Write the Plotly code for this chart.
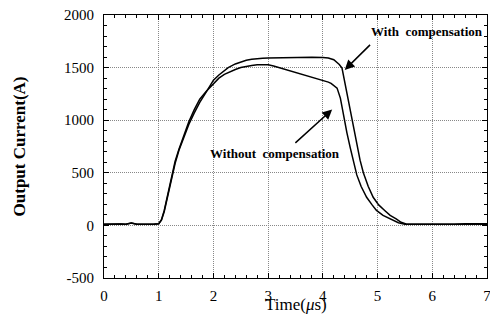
import plotly.graph_objects as go

# Time (us) and current (A)
t_with = [0.0, 0.1, 0.2, 0.3, 0.4, 0.5, 0.6, 0.7, 0.8, 0.9, 1.0, 1.05, 1.1, 1.15, 1.2, 1.25, 1.3, 1.37, 1.45, 1.55,
          1.65, 1.75, 1.87, 2.0, 2.1, 2.2, 2.27, 2.4, 2.5, 2.6, 2.7, 2.8, 2.9, 3.0, 3.2, 3.4, 3.6, 3.8, 4.0,
          4.1, 4.2, 4.25, 4.3, 4.35, 4.41, 4.47, 4.53, 4.58, 4.62, 4.68, 4.74, 4.83, 4.92, 5.02, 5.13, 5.23,
          5.34, 5.43, 5.52, 5.6, 5.8, 6.0, 6.2, 6.4, 6.6, 6.8, 7.0]
i_with = [10, 12, 8, 14, 10, 22, 12, 10, 14, 12, 15, 50, 130, 240, 370, 490, 590, 714, 830, 960,
          1070, 1170, 1270, 1380, 1430, 1470, 1500, 1535, 1555, 1570, 1580, 1587, 1590, 1592, 1595, 1597, 1598, 1598, 1596,
          1592, 1575, 1555, 1530, 1495, 1337, 1170, 1000, 870, 760, 620, 500, 370, 267, 195, 142, 95,
          63, 30, 14, 10, 12, 10, 14, 12, 15, 13, 15]

t_without = [0.0, 0.1, 0.2, 0.3, 0.4, 0.5, 0.6, 0.7, 0.8, 0.9, 1.0, 1.05, 1.1, 1.15, 1.2, 1.25, 1.3, 1.37, 1.45, 1.55,
             1.65, 1.75, 1.87, 2.0, 2.1, 2.2, 2.3, 2.4, 2.5, 2.6, 2.7, 2.8, 2.9, 3.0, 3.1, 3.2, 3.3, 3.4, 3.5,
             3.6, 3.7, 3.8, 3.9, 4.0, 4.1, 4.15, 4.2, 4.26, 4.32, 4.38, 4.44, 4.5, 4.56, 4.62, 4.7, 4.8, 4.9,
             4.98, 5.1, 5.25, 5.38, 5.5, 5.7, 6.0, 6.5, 7.0]
i_without = [10, 12, 8, 14, 10, 22, 12, 10, 14, 12, 15, 55, 140, 255, 385, 505, 610, 725, 850, 985,
             1100, 1200, 1275, 1350, 1400, 1435, 1462, 1482, 1500, 1512, 1520, 1527, 1530, 1526, 1515, 1500, 1482, 1464, 1450,
             1435, 1420, 1405, 1390, 1376, 1362, 1350, 1332, 1305, 1210, 1040, 880, 740, 600, 480, 370, 267, 195,
             142, 95, 55, 25, 12, 10, 12, 11, 12]

x_ticks = [0, 1, 2, 3, 4, 5, 6, 7]
y_ticks = [-500, 0, 500, 1000, 1500, 2000]

FONT = "'Liberation Serif', 'Times New Roman', 'DejaVu Serif', serif"

fig = go.Figure()
fig.add_trace(go.Scatter(x=t_with, y=i_with, mode="lines", line=dict(color="black", width=1.5), showlegend=False))
fig.add_trace(go.Scatter(x=t_without, y=i_without, mode="lines", line=dict(color="black", width=1.5), showlegend=False))

axis_common = dict(
    showline=True, linecolor="black", linewidth=1, mirror="allticks",
    ticks="inside", ticklen=5, tickcolor="black",
    showgrid=True, gridcolor="#888888", griddash="1px,1px", gridwidth=1,
    zeroline=False, tickfont=dict(family=FONT, size=15, color="black"),
    automargin=False, ticklabeloverflow="allow",
)

fig.update_xaxes(range=[0, 7], tickvals=x_ticks, ticktext=[str(v) for v in x_ticks],
                 minor=dict(ticks="inside", dtick=0.2, ticklen=3, tickcolor="black", showgrid=False),
                 ticklabelstandoff=4,
                 **axis_common)
fig.update_yaxes(range=[-500, 2000], tickvals=y_ticks, ticktext=[str(v) for v in y_ticks],
                 minor=dict(ticks="inside", dtick=100, ticklen=3, tickcolor="black", showgrid=False),
                 ticklabelstandoff=6,
                 title=dict(text="<b>Output Current(A)</b>", font=dict(family=FONT, size=17, color="black"), standoff=34),
                 **axis_common)

# x-axis title as a paper-anchored text, so it is not squeezed by the bottom margin
fig.add_annotation(x=0.5, y=-0.145, xref="paper", yref="paper", xanchor="center", yanchor="bottom",
                   showarrow=False, text="Time(<i>μ</i>s)", font=dict(family=FONT, size=17, color="black"))

fig.add_annotation(x=4.40, y=1478, ax=4.89, ay=1730, axref="x", ayref="y",
                   showarrow=True, arrowhead=2, arrowsize=1.3, arrowwidth=1.5, arrowcolor="black", text="")
fig.add_annotation(x=4.17, y=1101, ax=3.47, ay=771, axref="x", ayref="y",
                   showarrow=True, arrowhead=2, arrowsize=1.3, arrowwidth=1.5, arrowcolor="black", text="")
fig.add_annotation(x=5.9, y=1840, xanchor="center", yanchor="middle", showarrow=False,
                   text="<b>With  compensation</b>", font=dict(family=FONT, size=13, color="black"))
fig.add_annotation(x=3.13, y=680, xanchor="center", yanchor="middle", showarrow=False,
                   text="<b>Without  compensation</b>", font=dict(family=FONT, size=13, color="black"))

# page body adds 8px margins; size the figure so the page fits the window without scrollbars
fig.update_layout(width=482, height=309, margin=dict(l=96, r=3, t=7, b=39),
                  plot_bgcolor="white", paper_bgcolor="white")

fig.write_html("out.html")
